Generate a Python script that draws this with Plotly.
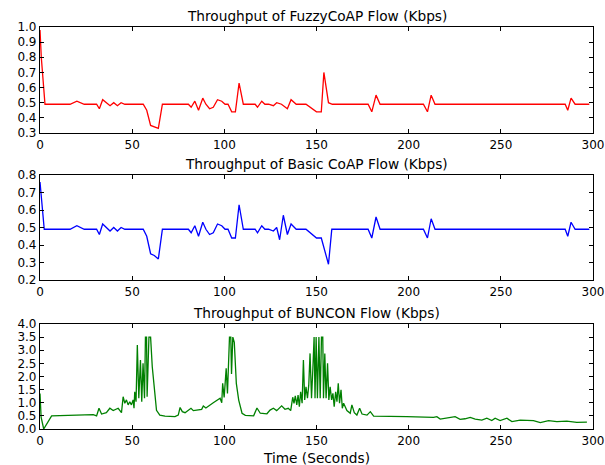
import plotly.graph_objects as go

# ---------------- data ----------------
x_ticks = [0, 50, 100, 150, 200, 250, 300]

t_fuzzy = [0, 0.7, 2.7, 16.3, 20, 24, 30.7, 32.2, 34, 38, 40, 42, 44, 46,
           56, 57.9, 60, 62, 64.2, 66.4,
           80.5, 82, 84, 86, 88.3, 90, 92, 94, 96.3, 98.6, 100.4, 102, 104, 106, 108, 110.3,
           116.7, 118, 120.3, 122, 124, 126.6, 128.4, 131, 134.2, 136.2, 139,
           144.3, 150, 152.6, 154, 156.5, 158.6,
           178, 180, 182.3, 184.5, 208, 210.2, 212.2, 214.3,
           284.9, 286.3, 288.1, 290.3, 298]
y_fuzzy = [0.98, 0.80, 0.49, 0.49, 0.51, 0.49, 0.49, 0.46, 0.52, 0.48, 0.50, 0.48, 0.50, 0.49,
           0.49, 0.45, 0.35, 0.34, 0.33, 0.49,
           0.49, 0.47, 0.51, 0.45, 0.53, 0.49, 0.46, 0.47, 0.52, 0.51, 0.49, 0.49, 0.44, 0.44, 0.63, 0.49,
           0.49, 0.47, 0.51, 0.49, 0.49, 0.48, 0.50, 0.49, 0.46, 0.52, 0.49,
           0.49, 0.44, 0.44, 0.70, 0.50, 0.49,
           0.49, 0.44, 0.55, 0.49, 0.49, 0.44, 0.55, 0.49,
           0.49, 0.45, 0.53, 0.49, 0.49]

t_basic = [0, 0.5, 2.3, 16.3, 20, 24, 30.7, 32.2, 34, 38, 40, 42, 44, 46,
           56, 57.9, 60, 62, 64.2, 66.4,
           80.5, 82, 84, 86, 88.3, 90, 92, 94, 96.3, 98.6, 100.4, 102, 104, 106, 108, 110.3,
           116.7, 118, 120.3, 122, 124, 126.6, 128.4, 130, 132, 134.2, 136.2, 139,
           144.3, 150, 152.6, 156.5, 158.3,
           178, 180, 182.3, 184.5, 208, 210.2, 212.2, 214.3,
           284.9, 286.3, 288.1, 290.3, 298]
y_basic = [0.76, 0.70, 0.49, 0.49, 0.51, 0.49, 0.49, 0.46, 0.52, 0.48, 0.50, 0.48, 0.50, 0.49,
           0.49, 0.45, 0.35, 0.34, 0.32, 0.49,
           0.49, 0.47, 0.51, 0.45, 0.53, 0.49, 0.46, 0.47, 0.52, 0.51, 0.49, 0.49, 0.44, 0.44, 0.63, 0.49,
           0.49, 0.47, 0.51, 0.49, 0.49, 0.48, 0.50, 0.43, 0.57, 0.46, 0.52, 0.49,
           0.49, 0.44, 0.44, 0.29, 0.49,
           0.49, 0.44, 0.56, 0.49, 0.49, 0.44, 0.55, 0.49,
           0.49, 0.45, 0.53, 0.49, 0.49]

t_buncon = [0, 0.6, 2.0, 6.3, 28.9, 30.7, 32, 33.4, 36, 37.9, 39.7, 42.4, 44.2,
            45.1, 46, 46.9, 47.8, 48.7, 49.6, 50.5, 51, 51.4, 52.1, 52.8, 53.6, 54.5, 55.2,
            55.9, 56.7, 57.2, 57.8, 58.1, 59.1, 60, 60.9, 62, 63.2, 65, 67.8, 73.2,
            75, 76, 77.2, 78.7, 81.9, 83.2, 87.7, 88.6, 90, 94, 97.7, 98.6,
            99.1, 99.9, 101, 101.7, 102.8, 103.5, 103.9, 104.6, 105.4, 106.5, 107.8, 109.6, 111.4,
            115.9, 117.7, 119.5, 123.1, 124.8, 126.6, 128.4, 131.1, 132.9, 134.7, 136,
            137.1, 137.8, 138.5, 139.3, 140, 140.7, 141.4, 142.2, 142.9, 143.6, 144.3, 145.1,
            145.8, 146.5, 147.3, 148, 148.7, 149.2, 149.8, 150.5, 151.3, 152, 152.7, 153.4,
            153.8, 154.5, 155.2, 156, 156.7, 157.4, 158.2, 158.9, 159.6, 160.4, 161.1, 161.8,
            162.5, 163.3, 164, 164.7, 166.5, 168.3, 169.2, 170.5, 171.9, 173.4, 174.7, 177.4,
            179.2, 181, 186.4, 190, 199, 213.5, 215.3, 217.1, 220.7, 225.2, 227.9, 230.6,
            233.4, 236.1, 239.7, 242.4, 245.1, 246.9, 249.6, 253.3, 256, 260.5, 267.7, 271.4,
            275.9, 280.4, 285.8, 291.2, 296.7]
y_buncon = [1.35, 0.45, 0.0, 0.50, 0.55, 0.50, 0.79, 0.57, 0.62, 0.79, 0.70, 0.79, 0.62,
            1.23, 0.98, 1.11, 0.92, 1.04, 0.92, 1.11, 0.79, 1.42, 1.04, 3.20, 1.17, 2.63, 1.04,
            2.50, 1.17, 3.50, 3.50, 1.23, 3.50, 3.50, 2.37, 1.47, 0.71, 0.53, 0.49, 0.47,
            0.53, 0.82, 0.66, 0.62, 0.79, 0.70, 0.75, 0.88, 0.80, 1.00, 1.17, 1.00,
            1.74, 1.20, 2.31, 1.35, 3.50, 3.50, 2.10, 3.50, 3.30, 1.74, 1.10, 0.60, 0.52,
            0.50, 0.80, 0.60, 0.58, 0.72, 0.79, 0.70, 0.88, 0.75, 0.79, 0.70,
            1.21, 0.98, 1.26, 0.92, 1.29, 0.85, 1.42, 0.98, 2.63, 1.11, 1.61, 1.17,
            1.67, 2.88, 1.17, 2.25, 3.50, 1.17, 3.50, 1.17, 3.50, 1.17, 3.50, 3.50,
            1.17, 2.88, 1.17, 2.50, 1.11, 1.61, 1.11, 1.36, 0.85, 1.42, 1.04, 1.74,
            0.98, 1.49, 0.79, 0.98, 0.70, 0.60, 0.92, 0.62, 0.53, 0.79, 0.57, 0.53,
            0.66, 0.49, 0.49, 0.47, 0.47, 0.44, 0.47, 0.38, 0.42, 0.47, 0.37, 0.39,
            0.44, 0.38, 0.34, 0.41, 0.32, 0.41, 0.32, 0.41, 0.28, 0.34, 0.32, 0.24,
            0.32, 0.28, 0.30, 0.25, 0.26]

titles = ["Throughput of FuzzyCoAP Flow (Kbps)",
          "Throughput of Basic CoAP Flow (Kbps)",
          "Throughput of BUNCON Flow (Kbps)"]
x_label = "Time (Seconds)"

# ---------------- figure ----------------
W, H = 605, 465
ML, MR, MT, MB = 40, 12, 27, 36
PH = H - MT - MB

def dom(top_px, bot_px):
    return [1 - (bot_px - MT) / PH, 1 - (top_px - MT) / PH]

domains = [dom(27, 133), dom(175, 280), dom(324, 429)]

font = dict(family="DejaVu Sans", size=12, color="black")
tfont = dict(family="DejaVu Sans", size=13.7, color="black")

fig = go.Figure()
fig.add_trace(go.Scatter(x=t_fuzzy, y=y_fuzzy, mode="lines",
                         line=dict(color="#ff0000", width=1.3), xaxis="x", yaxis="y"))
fig.add_trace(go.Scatter(x=t_basic, y=y_basic, mode="lines",
                         line=dict(color="#0000ff", width=1.3), xaxis="x2", yaxis="y2"))
fig.add_trace(go.Scatter(x=t_buncon, y=y_buncon, mode="lines",
                         line=dict(color="#008000", width=1.3), xaxis="x3", yaxis="y3"))

common = dict(showline=True, linecolor="black", linewidth=1.2, mirror="ticks",
              ticks="inside", ticklen=4, tickcolor="black", tickwidth=1,
              showgrid=False, zeroline=False, automargin=False, tickfont=font)

yranges = [[0.3, 1.0], [0.2, 0.8], [0.0, 4.0]]
ydticks = [0.1, 0.1, 0.5]

layout = dict(width=W, height=H, margin=dict(l=ML, r=MR, t=MT, b=MB),
              paper_bgcolor="white", plot_bgcolor="white", showlegend=False,
              font=font)
for i in range(3):
    sx = "xaxis" if i == 0 else f"xaxis{i+1}"
    sy = "yaxis" if i == 0 else f"yaxis{i+1}"
    layout[sx] = dict(common, domain=[0, 1], range=[0, 300], tickvals=x_ticks,
                      anchor="y" if i == 0 else f"y{i+1}")
    layout[sy] = dict(common, domain=domains[i], range=yranges[i], dtick=ydticks[i],
                      tick0=0, tickformat=".1f",
                      anchor="x" if i == 0 else f"x{i+1}")

anns = []
for i in range(3):
    anns.append(dict(text=titles[i], xref="paper", yref="paper", x=0.5, y=domains[i][1],
                     xanchor="center", yanchor="bottom", yshift=1, showarrow=False,
                     font=tfont))
anns.append(dict(text=x_label, xref="paper", yref="paper", x=0.5, y=0,
                 xanchor="center", yanchor="middle", yshift=-29, showarrow=False,
                 font=tfont))
layout["annotations"] = anns
fig.update_layout(**layout)

fig.write_html("out.html")
